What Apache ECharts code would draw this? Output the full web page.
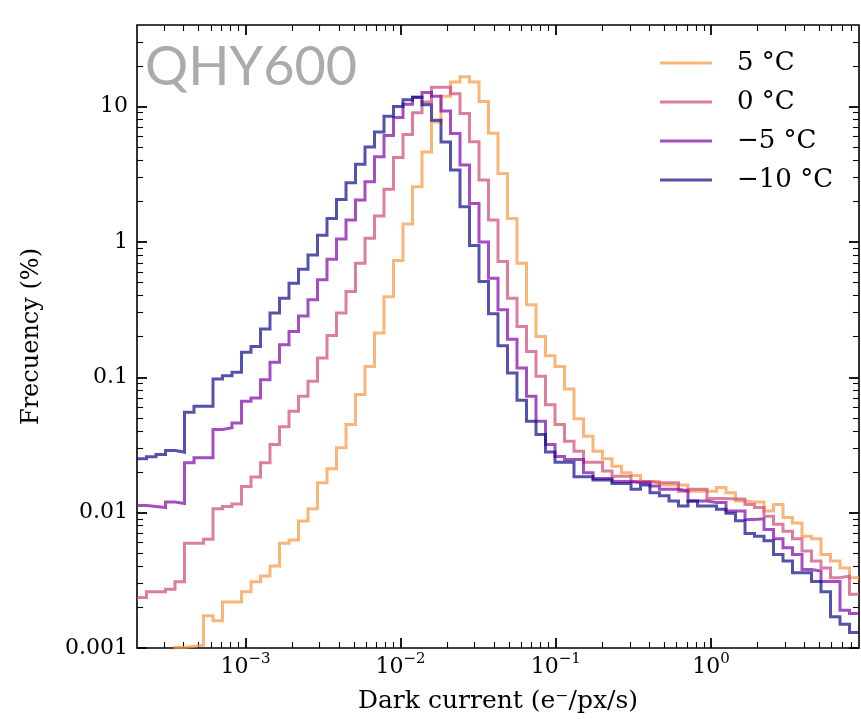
<!DOCTYPE html>
<html><head><meta charset="utf-8">
<script src="https://cdn.jsdelivr.net/npm/echarts@6/dist/echarts.min.js"></script>
<style>html,body{margin:0;padding:0;background:#fff}#c{width:861px;height:719px}</style>
</head><body><div id="c"></div>
<script>
// ---- histogram bins (log-spaced) ----
const BIN_MIN = 2e-4, BIN_MAX = 9, N_BINS = 76;
// ---- legend names ----
const seriesNames = ['5 °C', '0 °C', '−5 °C', '−10 °C'];
const seriesColors = ['rgba(248,149,64,0.7)', 'rgba(204,71,120,0.7)', 'rgba(126,3,168,0.7)', 'rgba(13,8,135,0.7)'];
// ---- frequency (%) per bin ----
const freqP5 = [0.0005,0.0005,0.0005,0.0005,0.00101,0.00103,0.00105,0.00173,0.00159,0.00219,
  0.00219,0.0026,0.00308,0.00341,0.00404,0.00594,0.00628,0.00867,0.0107,0.0166,
  0.0211,0.0301,0.0448,0.0745,0.120,0.212,0.394,0.73,1.355,2.55,
  4.62,7.69,11.9,15.2,16.6,15.2,10.9,6.35,3.2,1.49,
  0.695,0.343,0.200,0.144,0.120,0.082,0.0493,0.0367,0.0284,0.025,
  0.022,0.0197,0.0188,0.017,0.017,0.016,0.016,0.016,0.0144,0.0144,
  0.0144,0.0153,0.014,0.0122,0.012,0.012,0.0103,0.0115,0.0092,0.0084,
  0.0067,0.0064,0.0049,0.0044,0.0039,0.0033];
const freq0 = [0.00236,0.0026,0.0026,0.00272,0.00308,0.00594,0.00594,0.00636,0.0107,0.0111,
  0.0116,0.0156,0.0183,0.0234,0.0319,0.0430,0.056,0.0723,0.0933,0.139,
  0.203,0.298,0.43,0.695,1.063,1.55,2.45,4.2,6.2,9.0,
  10.8,13.9,13.9,12.4,8.87,5.48,2.86,1.45,0.715,0.384,
  0.237,0.155,0.1016,0.0627,0.0448,0.0337,0.0284,0.0236,0.0236,0.0203,
  0.0186,0.0186,0.0170,0.0170,0.0166,0.0166,0.0166,0.0144,0.0149,0.0149,
  0.0127,0.0127,0.0126,0.0126,0.0115,0.0109,0.0094,0.0082,0.0073,0.0064,
  0.0052,0.0044,0.0039,0.0033,0.0034,0.0025];
const freqM5 = [0.0113,0.0111,0.0109,0.0120,0.0117,0.0234,0.0254,0.0254,0.0411,0.0424,
  0.046,0.0665,0.0704,0.096,0.129,0.174,0.218,0.284,0.373,0.524,
  0.744,1.05,1.45,2.04,2.78,4.25,6.1,8.28,10.4,11.7,
  12.7,11.9,9.27,6.31,3.69,1.92,1.00,0.539,0.315,0.191,
  0.117,0.0723,0.0473,0.0319,0.0260,0.0247,0.0247,0.0197,0.0179,0.0179,
  0.017,0.017,0.0166,0.0166,0.0157,0.0149,0.0149,0.0145,0.0122,0.0122,
  0.0119,0.0119,0.0103,0.0103,0.0089,0.0090,0.0075,0.0064,0.0055,0.0049,
  0.0038,0.0037,0.0031,0.0031,0.0019,0.0018];
const freqM10 = [0.0250,0.0259,0.0269,0.0288,0.0280,0.0551,0.0610,0.0610,0.0972,0.1027,
  0.1087,0.153,0.169,0.227,0.298,0.384,0.495,0.628,0.801,1.12,
  1.49,2.06,2.73,3.75,5.03,6.49,8.47,10.0,11.2,11.7,
  10.3,7.91,5.47,3.39,1.82,0.94,0.509,0.294,0.171,0.1076,
  0.0676,0.0473,0.0378,0.0280,0.0236,0.0236,0.0184,0.0184,0.0174,0.0174,
  0.0164,0.0164,0.0149,0.0160,0.0140,0.0133,0.0122,0.0112,0.0122,0.0112,
  0.0112,0.0106,0.0099,0.0087,0.0070,0.0067,0.0062,0.0049,0.0044,0.0036,
  0.0036,0.0031,0.0026,0.0017,0.0015,0.0013];
// ---- axis ticks ----
const xMajorTicks = [1e-3, 1e-2, 1e-1, 1];
const xMajorExp = ['−3', '−2', '−1', '0'];
const yMajorTicks = [0.001, 0.01, 0.1, 1, 10];
const yMajorLabels = ['0.001', '0.01', '0.1', '1', '10'];
const Y_MIN = 0.001, Y_MAX = 40;

const L = Math.log10;
const xMin = L(BIN_MIN), xMax = L(BIN_MAX), yMin = L(Y_MIN), yMax = L(Y_MAX);
function minorTicks(lo, hi) {
  const out = [];
  for (let e = -6; e <= 3; e++) for (let j = 2; j <= 9; j++) {
    const v = L(j * Math.pow(10, e));
    if (v > lo + 1e-9 && v < hi - 1e-9) out.push(v);
  }
  return out;
}
const xMajL = xMajorTicks.map(L), yMajL = yMajorTicks.map(L);
const xMinL = minorTicks(xMin, xMax), yMinL = minorTicks(yMin, yMax);

function stepData(vals) {
  const w = (xMax - xMin) / N_BINS, d = [];
  for (let k = 0; k < vals.length; k++) d.push([xMin + k * w, L(vals[k])]);
  d.push([xMin + N_BINS * w, L(vals[vals.length - 1])]);
  return d;
}
const FONT = 'DejaVu Serif';
function axisX(pos, ticks, len, width, label) {
  return {
    type: 'value', position: pos, min: xMin, max: xMax,
    axisLine: { show: false, onZero: false }, splitLine: { show: false },
    axisTick: { show: true, inside: true, length: len, customValues: ticks, lineStyle: { color: '#000', width: width } },
    axisLabel: label || { show: false }
  };
}
function axisY(pos, ticks, len, width, label) {
  return {
    type: 'value', position: pos, min: yMin, max: yMax,
    axisLine: { show: false, onZero: false }, splitLine: { show: false },
    axisTick: { show: true, inside: true, length: len, customValues: ticks, lineStyle: { color: '#000', width: width } },
    axisLabel: label || { show: false }
  };
}
const xMain = axisX('bottom', xMajL, 10, 1.8, {
  show: true, customValues: xMajL, margin: 4,
  formatter: v => { const i = xMajL.findIndex(t => Math.abs(t - v) < 1e-6); return '{b|10}{s|' + xMajorExp[i] + '}'; },
  rich: { b: { fontFamily: FONT, fontSize: 22, lineHeight: 26, padding: [4, 0, 0, 0], color: '#000' },
          s: { fontFamily: FONT, fontSize: 15, lineHeight: 15, verticalAlign: 'top', color: '#000' } }
});
xMain.name = 'Dark current (e⁻/px/s)';
xMain.nameLocation = 'middle'; xMain.nameGap = 41;
xMain.nameTextStyle = { fontFamily: FONT, fontSize: 25, color: '#000' };
const yMain = axisY('left', yMajL, 10, 1.8, {
  show: true, customValues: yMajL, margin: 9,
  formatter: v => { const i = yMajL.findIndex(t => Math.abs(t - v) < 1e-6); return yMajorLabels[i]; },
  fontFamily: FONT, fontSize: 22, color: '#000'
});
yMain.name = 'Frecuency (%)';
yMain.nameLocation = 'middle'; yMain.nameGap = 93;
yMain.nameTextStyle = { fontFamily: FONT, fontSize: 24, color: '#000' };

const allData = [freqP5, freq0, freqM5, freqM10];
const option = {
  animation: false,
  backgroundColor: '#fff',
  title: { text: 'QHY600', left: 145, top: 41, padding: 0,
    textStyle: { fontFamily: 'Lato', fontWeight: 'normal', fontSize: 54, lineHeight: 54, color: '#ADAAAA' } },
  grid: { left: 137, top: 25, width: 722, height: 624, show: true, borderColor: '#000', borderWidth: 1.6, backgroundColor: 'transparent' },
  legend: {
    orient: 'vertical', left: 660, top: 50, padding: 0, itemGap: 13,
    itemWidth: 52, itemHeight: 3, icon: 'rect',
    textStyle: { fontFamily: FONT, fontSize: 26, lineHeight: 26, color: '#000', padding: [0, 0, 0, 20] },
    data: seriesNames
  },
  xAxis: [xMain, axisX('bottom', xMinL, 6, 1.1), axisX('top', xMajL, 10, 1.8), axisX('top', xMinL, 6, 1.1)],
  yAxis: [yMain, axisY('left', yMinL, 6, 1.1), axisY('right', yMajL, 10, 1.8), axisY('right', yMinL, 6, 1.1)],
  series: allData.map((vals, i) => ({
    name: seriesNames[i], type: 'line', step: 'end', xAxisIndex: 0, yAxisIndex: 0,
    data: stepData(vals), showSymbol: false, symbol: 'none', clip: true,
    color: seriesColors[i], itemStyle: { color: seriesColors[i] },
    lineStyle: { width: 3, color: seriesColors[i], join: 'miter', cap: 'butt' },
    emphasis: { disabled: true }
  }))
};
const chart = echarts.init(document.getElementById('c'), null, { renderer: 'canvas' });
chart.setOption(option);
</script></body></html>
